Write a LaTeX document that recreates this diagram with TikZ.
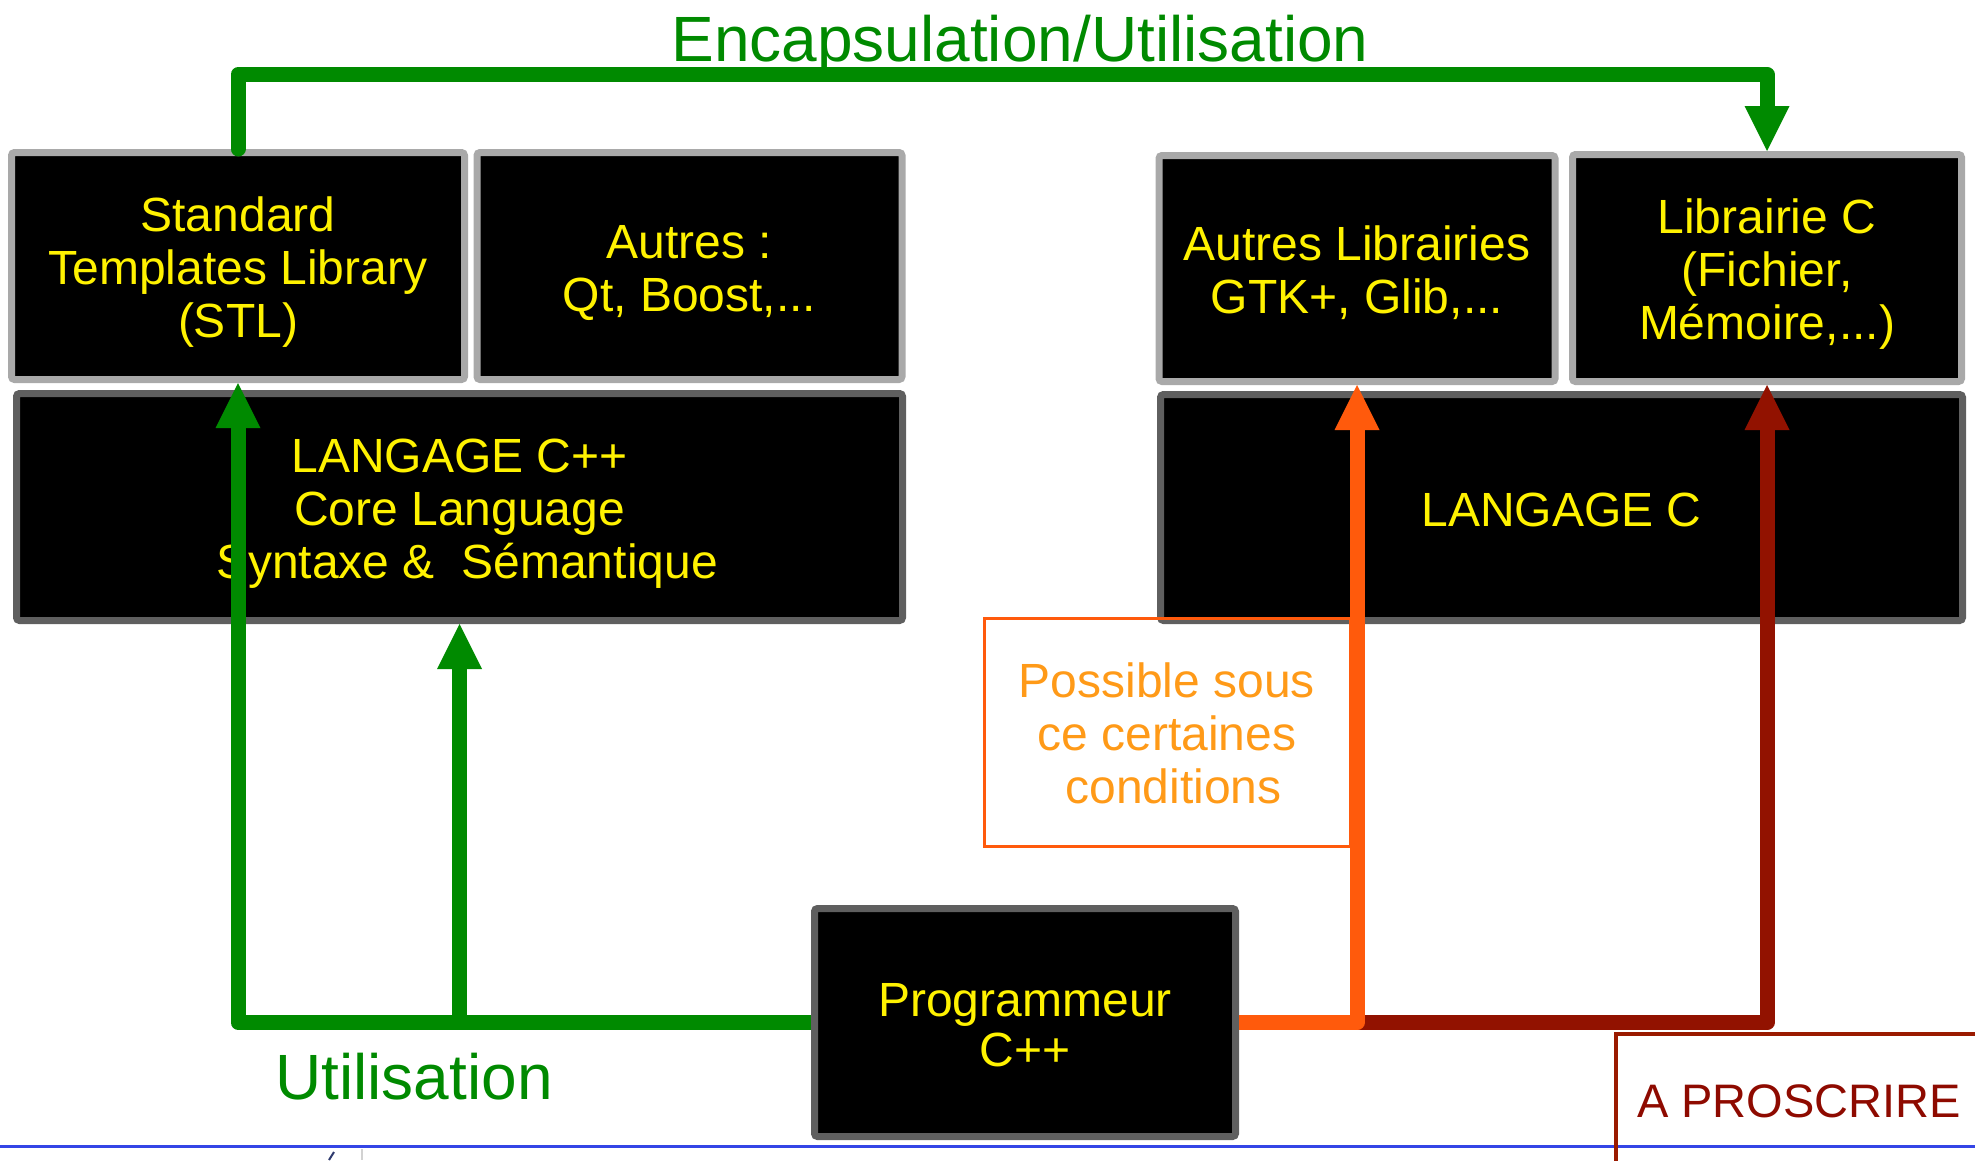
\documentclass[tikz,border=0pt]{standalone}
\usepackage{fontspec}
\setmainfont{Liberation Sans}
\usetikzlibrary{arrows.meta}
\definecolor{boxlight}{HTML}{A9A9A9}
\definecolor{boxdark}{HTML}{5F5F5F}
\definecolor{grn}{HTML}{008A00}
\definecolor{org}{HTML}{FF5A0C}
\definecolor{dred}{HTML}{921200}
\definecolor{orgtxt}{HTML}{FF9A18}
\definecolor{proscr}{HTML}{8E0A00}
\definecolor{proscrline}{HTML}{9A1A00}
\definecolor{bline}{HTML}{3445E6}
\definecolor{frag}{HTML}{2E3A6E}
\newcommand\tstrut{\rule{0pt}{49pt}}
\newcommand\bstrut{\rule[-12pt]{0pt}{12pt}}
\begin{document}
\begin{tikzpicture}[x=1pt,y=-1pt,
  box/.style={draw, fill=black, line width=7pt, rounded corners=3pt, text=yellow,
    font=\fontsize{48}{53}\selectfont, align=center, inner sep=0pt},
  lightbox/.style={box, draw=boxlight},
  darkbox/.style={box, draw=boxdark},
  link/.style={line width=15pt, line join=round,
    -{Triangle[width=45pt,length=45pt,line width=0pt]}},
  lbl/.style={text=grn, anchor=base, inner sep=0pt}
]
\useasboundingbox (0,0) rectangle (1975,1160);
\clip (0,0) rectangle (1975,1160);

% bottom blue rule and fragments
\coordinate (bl) at (0,1146.5);
\coordinate (br) at (1975,1146.5);
\draw[bline, line width=3.5pt] (bl) -- (br);
\coordinate (fa) at (362,1149);
\coordinate (fb) at (362,1160);
\draw[gray!35, line width=2.5pt] (fa) -- (fb);
\coordinate (fc) at (334,1152);
\coordinate (fd) at (329,1160);
\draw[frag, line width=2pt] (fc) -- (fd);

% boxes
\node[lightbox, minimum width=453pt, minimum height=227pt] (stl) at (238,266)
  {\tstrut Standard\\Templates Library\\(STL)\bstrut};
\node[lightbox, minimum width=425pt, minimum height=227pt] (aut) at (689.5,266)
  {\tstrut Autres :\\Qt, Boost,...\bstrut};
\node[darkbox, minimum width=886pt, minimum height=227pt] (cpp) at (459.5,507)
  {\tstrut LANGAGE C++\\Core Language\\\hspace*{15pt}Syntaxe \&~ Sémantique\bstrut};

\node[lightbox, minimum width=396pt, minimum height=226pt] (alib) at (1357,268.5)
  {\tstrut Autres Librairies\\GTK+, Glib,...\bstrut};
\node[lightbox, minimum width=389pt, minimum height=227pt] (libc) at (1767,268)
  {\tstrut Librairie C\\(Fichier,\\Mémoire,...)\bstrut};
\node[darkbox, minimum width=802pt, minimum height=226pt] (langc) at (1561.5,507.5)
  {\tstrut LANGAGE C\bstrut};
\node[darkbox, minimum width=421pt, minimum height=228pt,
  font=\fontsize{48}{50}\selectfont] (prog) at (1025,1022.5) {\tstrut Programmeur\\C++\bstrut};

\node[draw=org, line width=3pt, minimum width=366pt, minimum height=228pt, inner sep=0pt,
  text=orgtxt, font=\fontsize{48}{53}\selectfont, align=center] (poss) at (1167,732)
  {\tstrut Possible sous\\ce certaines\\\hspace*{13pt}conditions\bstrut};

\node[draw=proscrline, line width=4pt, minimum width=420pt, minimum height=180pt,
  anchor=north west, inner sep=0pt] (pros) at (1614,1032) {};
\node[text=proscr, font=\fontsize{47}{53}\selectfont, anchor=base west, inner sep=0pt]
  (prostxt) at (1637,1117) {A PROSCRIRE};

% connectors
\coordinate (topy) at (0,74.5);
\draw[grn, line width=15pt, line join=round, line cap=round,
  -{Triangle[width=45pt,length=45pt,line width=0pt]}]
  (stl.north) -- (stl.north |- topy) -| (libc.north);
\draw[link, grn] (prog.west) -| (stl.south);
\draw[link, grn] (prog.west -| cpp.south) -- (cpp.south);
\draw[link, dred] (prog.east -| alib.south) -| (libc.south);
\draw[link, org] (prog.east) -| (alib.south);

% labels
\node[lbl, font=\fontsize{64}{70}\selectfont] (util) at (414,1099) {Utilisation};
\node[lbl, font=\fontsize{64}{70}\selectfont] (encap) at (1020,61) {Encapsulation/Utilisation};
\end{tikzpicture}
\end{document}
